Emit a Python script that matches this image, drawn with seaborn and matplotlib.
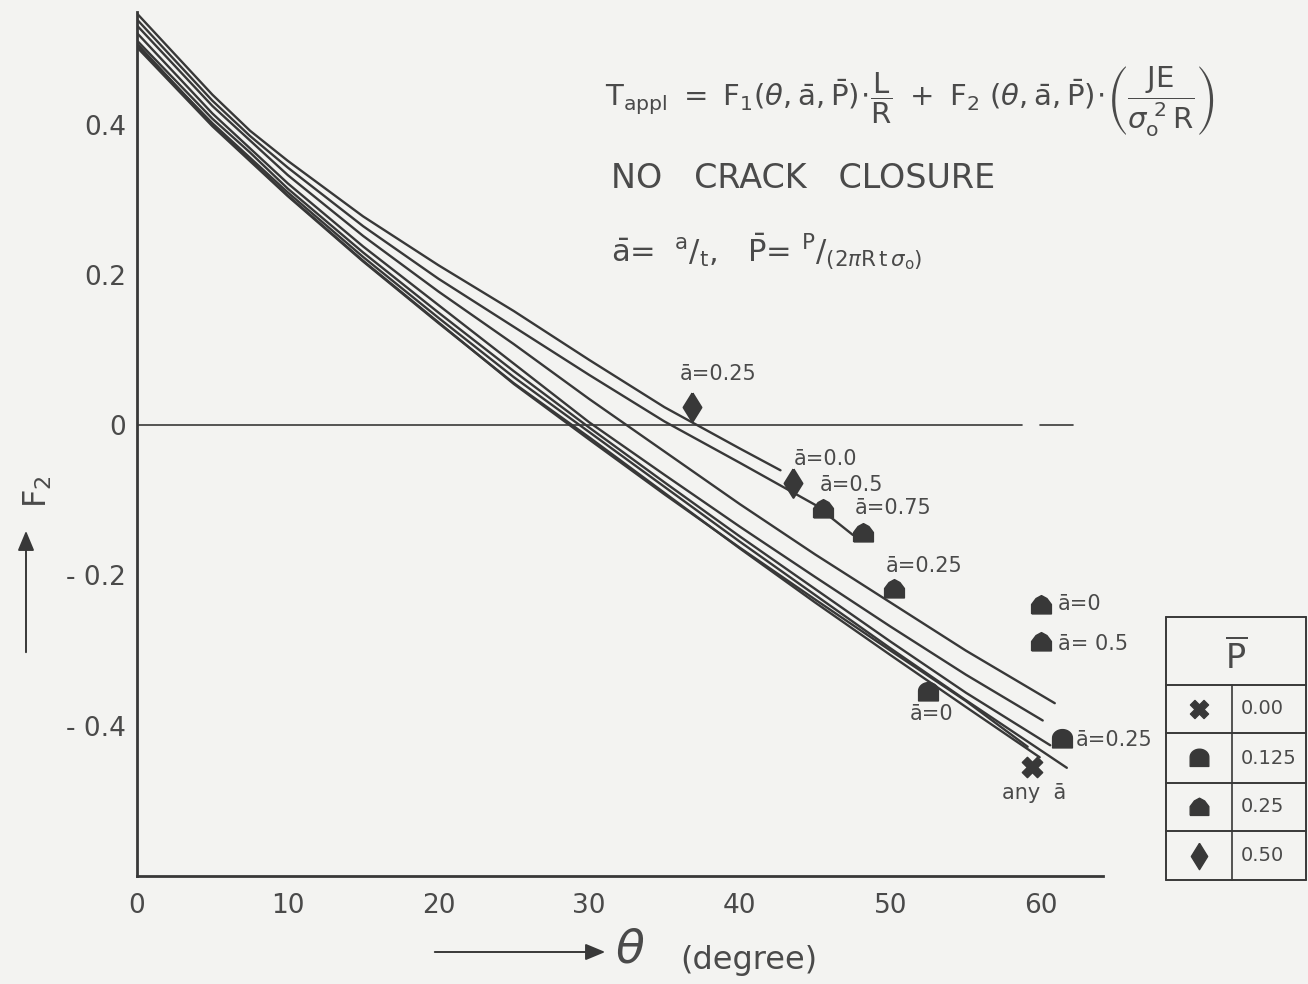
import numpy as np
import pandas as pd
import matplotlib
matplotlib.use("Agg")
import matplotlib.pyplot as plt
import seaborn as sns
from matplotlib.path import Path

# ---------------- data ----------------
theta_A1 = [0, 5, 7.5, 10, 15, 20, 25, 30, 35, 40, 42.7]
f2_A1 = [0.548, 0.440, 0.392, 0.352, 0.278, 0.213, 0.152, 0.087, 0.024, -0.031, -0.060]

theta_A2 = [0, 5, 7.5, 10, 15, 20, 25, 30, 35, 40, 45, 47.5]
f2_A2 = [0.540, 0.432, 0.385, 0.343, 0.265, 0.195, 0.131, 0.067, 0.005, -0.050, -0.106, -0.146]

theta_L1 = [0, 5, 10, 15, 20, 25, 30, 35, 40, 45, 50, 55, 60.9]
f2_L1 = [0.532, 0.425, 0.333, 0.252, 0.178, 0.108, 0.035, -0.035, -0.105, -0.172, -0.236, -0.300, -0.370]

theta_L2 = [0, 5, 10, 15, 20, 25, 30, 35, 40, 45, 50, 55, 60.1]
f2_L2 = [0.522, 0.415, 0.322, 0.238, 0.160, 0.082, 0.004, -0.066, -0.135, -0.202, -0.268, -0.332, -0.393]

theta_L3 = [0, 5, 7.5, 10, 15, 20, 25, 30, 35, 40, 45, 50, 55, 60.6]
f2_L3 = [0.512, 0.408, 0.363, 0.315, 0.230, 0.150, 0.072, -0.003, -0.076, -0.148, -0.218, -0.288, -0.356, -0.426]

theta_L4 = [0, 5, 7.5, 10, 15, 20, 25, 30, 35, 40, 45, 50, 55, 61.7]
f2_L4 = [0.505, 0.402, 0.356, 0.310, 0.224, 0.143, 0.064, -0.009, -0.082, -0.155, -0.226, -0.297, -0.366, -0.456]

theta_L5 = [0, 5, 10, 15, 20, 25, 30, 35, 40, 45, 50, 55, 59.9]
f2_L5 = [0.503, 0.398, 0.305, 0.218, 0.136, 0.056, -0.016, -0.090, -0.164, -0.236, -0.306, -0.375, -0.442]

theta_L6 = [0, 5, 10, 15, 20, 25, 30, 35, 40, 45, 50, 55, 59.1]
f2_L6 = [0.508, 0.400, 0.306, 0.219, 0.137, 0.055, -0.019, -0.092, -0.163, -0.232, -0.300, -0.367, -0.428]

zero_theta_a = [0, 58.7]
zero_theta_b = [59.9, 62.1]
zero_f2 = [0, 0]

# data points by P-bar value
p000_theta = [59.4]
p000_f2 = [-0.455]
p0125_theta = [52.5, 61.4]
p0125_f2 = [-0.355, -0.418]
p025_theta = [45.5, 48.2, 50.2, 60.0, 60.0]
p025_f2 = [-0.112, -0.143, -0.218, -0.239, -0.288]
p050_theta = [36.8, 43.5]
p050_f2 = [0.024, -0.077]

x_ticks = [0, 10, 20, 30, 40, 50, 60]
y_ticks = [-0.4, -0.2, 0, 0.2, 0.4]
y_tick_labels = ["- 0.4", "- 0.2", "0", "0.2", "0.4"]
legend_values = ["0.00", "0.125", "0.25", "0.50"]

# ---------------- styling ----------------
sns.set_theme(style="white")
plt.rcParams["font.family"] = ["DejaVu Sans"]
plt.rcParams["mathtext.fontset"] = "dejavusans"

bg = "#f3f3f1"
ink = "#383838"
txt = "#4a4a4a"

curves = {
    "A1": (theta_A1, f2_A1), "A2": (theta_A2, f2_A2), "L1": (theta_L1, f2_L1),
    "L2": (theta_L2, f2_L2), "L3": (theta_L3, f2_L3), "L4": (theta_L4, f2_L4),
    "L5": (theta_L5, f2_L5), "L6": (theta_L6, f2_L6),
}
df = pd.concat([pd.DataFrame({"theta": t, "F2": f, "curve": k}) for k, (t, f) in curves.items()],
               ignore_index=True)

# custom markers
t = np.linspace(0, np.pi, 20)
dome = Path(list(zip(np.cos(t), 0.15 + 0.85 * np.sin(t))) + [(-1, -0.85), (1, -0.85), (1, 0.15)])
house = Path([(-1, -0.85), (1, -0.85), (1, 0.1), (0.55, 0.7), (0, 1.0), (-0.55, 0.7), (-1, 0.1), (-1, -0.85)])
diamond = Path([(0, 1), (0.62, 0), (0, -1), (-0.62, 0), (0, 1)])

fig = plt.figure(figsize=(13.08, 9.84), dpi=100, facecolor=bg)
ax = fig.add_axes([137 / 1308, (984 - 876) / 984, (1103 - 137) / 1308, (876 - 12) / 984])
ax.set_facecolor(bg)

sns.lineplot(data=df, x="theta", y="F2", units="curve", estimator=None, sort=False,
             color=ink, lw=1.7, ax=ax, legend=False)
ax.plot(zero_theta_a, zero_f2, color=ink, lw=1.2)
ax.plot(zero_theta_b, zero_f2, color=ink, lw=1.2)

sns.scatterplot(x=p000_theta, y=p000_f2, marker="X", s=210, color=ink, edgecolor=ink, ax=ax, zorder=4, legend=False)
sns.scatterplot(x=p0125_theta, y=p0125_f2, marker=dome, s=200, color=ink, edgecolor=ink, ax=ax, zorder=4, legend=False)
sns.scatterplot(x=p025_theta, y=p025_f2, marker=house, s=200, color=ink, edgecolor=ink, ax=ax, zorder=4, legend=False)
sns.scatterplot(x=p050_theta, y=p050_f2, marker=diamond, s=420, color=ink, edgecolor=ink, ax=ax, zorder=4, legend=False)

# point labels
labels = [
    ("ā=0.25", 36.0, 0.068), ("ā=0.0", 43.6, -0.045), ("ā=0.5", 45.3, -0.079),
    ("ā=0.75", 47.6, -0.110), ("ā=0.25", 49.7, -0.188), ("ā=0", 61.1, -0.238),
    ("ā= 0.5", 61.1, -0.291), ("ā=0", 51.3, -0.385), ("ā=0.25", 62.3, -0.419),
    ("any  ā", 57.4, -0.490),
]
for s_, x_, y_ in labels:
    ax.text(x_, y_, s_, fontsize=15, color=txt, ha="left", va="center", clip_on=False)

ax.set_xlim(0, 64.1)
ax.set_ylim(-0.6, 0.55)
ax.set_xticks(x_ticks)
ax.set_xticklabels([str(v) for v in x_ticks])
ax.set_yticks(y_ticks)
ax.set_yticklabels(y_tick_labels)
ax.tick_params(direction="in", length=12, width=1.3, color=ink, labelcolor=txt, labelsize=19)
ax.tick_params(axis="x", pad=12)
ax.tick_params(axis="y", pad=8)
ax.set_xlabel("")
ax.set_ylabel("")
for side in ["top", "right"]:
    ax.spines[side].set_visible(False)
for side in ["left", "bottom"]:
    ax.spines[side].set_color(ink)
    ax.spines[side].set_linewidth(2.0)

# axis labels with arrows
fig.text(38 / 1308, 1 - 492 / 984, r"$\mathrm{F}_2$", rotation=90, fontsize=23, color=txt,
         ha="center", va="center")
fig.patches.append(matplotlib.patches.FancyArrowPatch(
    (26 / 1308, 1 - 655 / 984), (26 / 1308, 1 - 528 / 984), transform=fig.transFigure,
    arrowstyle="-|>,head_length=12,head_width=5", color=ink, lw=1.4))
fig.patches.append(matplotlib.patches.FancyArrowPatch(
    (432 / 1308, 1 - 952 / 984), (608 / 1308, 1 - 952 / 984), transform=fig.transFigure,
    arrowstyle="-|>,head_length=12,head_width=5", color=ink, lw=1.4))
fig.text(615 / 1308, 1 - 950 / 984, r"$\theta$", fontsize=34, color=txt, ha="left", va="center")
fig.text(680 / 1308, 1 - 960 / 984, "(degree)", fontsize=23, color=txt, ha="left", va="center")

# annotations
fig.text(605 / 1308, 1 - 102 / 984,
         r"$\mathrm{T}_{\mathrm{appl}}\ =\ \mathrm{F}_{1}(\theta,\bar{\mathrm{a}},\bar{\mathrm{P}})\!\cdot\!\dfrac{\mathrm{L}}{\mathrm{R}}\ +\ \mathrm{F}_{2}\ (\theta,\bar{\mathrm{a}},\bar{\mathrm{P}})\!\cdot\!\left(\dfrac{\mathrm{JE}}{\sigma_{\mathrm{o}}^{\ 2}\,\mathrm{R}}\right)$",
         fontsize=21, color=txt, ha="left", va="center")
fig.text(611 / 1308, 1 - 178 / 984, "NO   CRACK   CLOSURE", fontsize=24, color=txt, ha="left", va="center")
fig.text(611 / 1308, 1 - 252 / 984,
         r"$\bar{\mathrm{a}}$=  $^{\mathrm{a}}/_{\mathrm{t}}$,   $\bar{\mathrm{P}}$= $^{\mathrm{P}}/_{(2\pi\mathrm{R}\,\mathrm{t}\,\sigma_{\mathrm{o}})}$",
         fontsize=22, color=txt, ha="left", va="center")

# legend table
ax_t = fig.add_axes([1166 / 1308, (984 - 880) / 984, 140 / 1308, 263 / 984])
ax_t.set_xlim(0, 140)
ax_t.set_ylim(263, 0)
ax_t.axis("off")
rows = [0, 68, 116, 166, 214, 263]
for yv in rows:
    ax_t.plot([0, 140], [yv, yv], color=ink, lw=1.4, clip_on=False)
ax_t.plot([0, 0], [0, 263], color=ink, lw=1.4, clip_on=False)
ax_t.plot([140, 140], [0, 263], color=ink, lw=1.4, clip_on=False)
ax_t.plot([66, 66], [68, 263], color=ink, lw=1.2, clip_on=False)
ax_t.text(70, 40, r"$\overline{\mathrm{P}}$", fontsize=24, color=txt, ha="center", va="center")
legend_markers = [("X", 170), (dome, 180), (house, 180), (diamond, 360)]
for i, ((mk, sz), val) in enumerate(zip(legend_markers, legend_values)):
    yc = (rows[i + 1] + rows[i + 2]) / 2
    ax_t.scatter([33], [yc], marker=mk, s=sz, color=ink, edgecolor=ink, clip_on=False)
    ax_t.text(75, yc, val, fontsize=14, color=txt, ha="left", va="center")

fig.savefig("out.png", dpi=100, facecolor=bg)
